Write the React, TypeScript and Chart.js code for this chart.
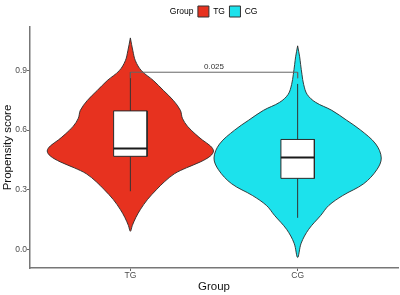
import React, { useEffect, useRef } from 'react';
import { Chart, registerables } from 'chart.js';

Chart.register(...registerables);

// ---- data ----
const groups = ['TG', 'CG'];

// violin outline: propensity-score levels and density half-widths (x units)
const tgDensityY = [1.065, 1.0, 0.95, 0.9, 0.85, 0.8, 0.75, 0.7, 0.66, 0.62, 0.58, 0.55, 0.52, 0.495, 0.47, 0.44, 0.41, 0.38, 0.34, 0.3, 0.25, 0.2, 0.16, 0.12, 0.09];
const tgHalfWidth = [0, 0.015, 0.03, 0.066, 0.138, 0.198, 0.257, 0.299, 0.311, 0.341, 0.389, 0.431, 0.479, 0.497, 0.479, 0.419, 0.335, 0.263, 0.204, 0.156, 0.102, 0.06, 0.033, 0.012, 0];
const cgDensityY = [1.025, 0.97, 0.93, 0.88, 0.83, 0.78, 0.74, 0.7, 0.65, 0.6, 0.53, 0.46, 0.4, 0.33, 0.27, 0.22, 0.17, 0.1, 0.03, -0.042];
const cgHalfWidth = [0, 0.012, 0.018, 0.026, 0.036, 0.057, 0.108, 0.204, 0.293, 0.377, 0.467, 0.5, 0.473, 0.395, 0.269, 0.186, 0.138, 0.066, 0.021, 0];

// box plot statistics per group
const whiskerLow = [0.292, 0.158];
const boxQ1 = [0.468, 0.357];
const boxMedian = [0.508, 0.462];
const boxQ3 = [0.697, 0.553];
const whiskerHigh = [0.892, 0.833];

// significance bracket
const sigY = 0.892;
const sigTip = 0.03;
const sigText = '0.025';

const yTicks = [0, 0.3, 0.6, 0.9];

// ---- styles ----
const fillColors = ['#E7321F', '#1CE2EC'];
const outline = '#2a2a2a';
const boxHalf = 0.1;
const FONT = "'Liberation Sans', Arial, Helvetica, sans-serif";

const densityY = [tgDensityY, cgDensityY];
const densityW = [tgHalfWidth, cgHalfWidth];

function violinPoints(i: number) {
  const c = i + 1;
  const Y = densityY[i];
  const W = densityW[i];
  const right = Y.map((v, k) => ({ x: c + W[k], y: v }));
  const left: { x: number; y: number }[] = [];
  for (let k = Y.length - 2; k >= 0; k--) left.push({ x: c - W[k], y: Y[k] });
  return [...right, ...left];
}

const sigLabelPlugin = {
  id: 'sigLabel',
  afterDatasetsDraw(chart: any) {
    const { ctx, scales } = chart;
    const x = scales.x.getPixelForValue(1.5);
    const y = scales.y.getPixelForValue(sigY);
    ctx.save();
    ctx.font = `8px ${FONT}`;
    ctx.fillStyle = '#333333';
    ctx.textAlign = 'center';
    ctx.textBaseline = 'bottom';
    ctx.fillText(sigText, x, y - 1.5);
    ctx.restore();
  },
};

export default function App() {
  const canvasRef = useRef<HTMLCanvasElement | null>(null);

  useEffect(() => {
    if (!canvasRef.current) return;
    const datasets: any[] = [];
    groups.forEach((g, i) => {
      const c = i + 1;
      datasets.push({
        label: g,
        data: violinPoints(i),
        borderColor: outline,
        borderWidth: 0.9,
        backgroundColor: fillColors[i],
        fill: 'shape',
        tension: 0.35,
        pointRadius: 0,
        order: 5,
      });
      datasets.push({
        label: g + ' whisker',
        data: [{ x: c, y: whiskerLow[i] }, { x: c, y: whiskerHigh[i] }],
        borderColor: '#333333',
        borderWidth: 1,
        fill: false,
        pointRadius: 0,
        order: 4,
      });
      datasets.push({
        label: g + ' box',
        data: [
          { x: c - boxHalf, y: boxQ3[i] },
          { x: c + boxHalf, y: boxQ3[i] },
          { x: c + boxHalf, y: boxQ1[i] },
          { x: c - boxHalf, y: boxQ1[i] },
          { x: c - boxHalf, y: boxQ3[i] },
        ],
        borderColor: outline,
        borderWidth: 1,
        backgroundColor: '#ffffff',
        fill: 'shape',
        pointRadius: 0,
        order: 3,
      });
      datasets.push({
        label: g + ' median',
        data: [{ x: c - boxHalf, y: boxMedian[i] }, { x: c + boxHalf, y: boxMedian[i] }],
        borderColor: '#1a1a1a',
        borderWidth: 2,
        fill: false,
        pointRadius: 0,
        order: 2,
      });
    });
    datasets.push({
      label: 'bracket',
      data: [
        { x: 1, y: sigY - sigTip },
        { x: 1, y: sigY },
        { x: 2, y: sigY },
        { x: 2, y: sigY - sigTip },
      ],
      borderColor: '#666666',
      borderWidth: 1,
      fill: false,
      pointRadius: 0,
      order: 1,
    });

    const chart = new Chart(canvasRef.current, {
      type: 'line',
      data: { datasets },
      plugins: [sigLabelPlugin],
      options: {
        indexAxis: 'y',
        animation: false,
        responsive: false,
        events: [],
        layout: { padding: { left: 14, right: 2, top: -1.5, bottom: 0 } },
        font: { family: FONT },
        plugins: {
          tooltip: { enabled: false },
          title: { display: false },
          legend: {
            display: true,
            position: 'top',
            align: 'center',
            labels: {
              boxWidth: 11,
              boxHeight: 11,
              padding: 4.5,
              color: '#333333',
              font: { size: 8.5, family: FONT },
              generateLabels: () => [
                { text: 'Group', fillStyle: 'rgba(0,0,0,0)', strokeStyle: 'rgba(0,0,0,0)', lineWidth: 0, hidden: false },
                ...groups.map((g, i) => ({
                  text: g,
                  fillStyle: fillColors[i],
                  strokeStyle: '#333333',
                  lineWidth: 1,
                  hidden: false,
                })),
              ],
            },
          },
        },
        scales: {
          x: {
            type: 'linear',
            position: 'bottom',
            min: 0.4,
            max: 2.6,
            bounds: 'data',
            afterBuildTicks: (s: any) => {
              s.ticks = groups.map((_, i) => ({ value: i + 1 }));
            },
            afterFit: (s: any) => {
              s.height = 27;
            },
            ticks: {
              callback: (v: any) => groups[Math.round(Number(v)) - 1] ?? '',
              color: '#4d4d4d',
              font: { size: 8.5, family: FONT },
              padding: 0,
              maxRotation: 0,
              autoSkip: false,
            },
            grid: { display: true, drawOnChartArea: false, drawTicks: true, tickLength: 3, color: '#666666' },
            border: { display: true, color: '#777777', width: 1.5 },
            title: {
              display: true,
              text: 'Group',
              color: '#111111',
              font: { size: 11.5, family: FONT },
              padding: { top: 0, bottom: 1 },
            },
          },
          y: {
            type: 'linear',
            position: 'left',
            min: -0.095,
            max: 1.12,
            bounds: 'data',
            afterBuildTicks: (s: any) => {
              s.ticks = yTicks.map((v) => ({ value: v }));
            },
            afterFit: (s: any) => {
              s.width = 16;
              s.paddingTop = 27;
            },
            ticks: {
              callback: (v: any) => Number(v).toFixed(1),
              color: '#4d4d4d',
              font: { size: 8.5, family: FONT },
              padding: 0,
              autoSkip: false,
            },
            grid: { display: true, drawOnChartArea: false, drawTicks: true, tickLength: 3, color: '#666666' },
            border: { display: true, color: '#777777', width: 1.5 },
            title: {
              display: true,
              text: 'Propensity score',
              color: '#111111',
              font: { size: 11.5, family: FONT },
              padding: { top: -13.4, bottom: 0 },
            },
          },
        },
      } as any,
    });
    return () => chart.destroy();
  }, []);

  return (
    <div style={{ position: 'absolute', left: 0, top: 0, width: 400, height: 295, background: '#ffffff' }}>
      <canvas ref={canvasRef} width={400} height={295} />
    </div>
  );
}
